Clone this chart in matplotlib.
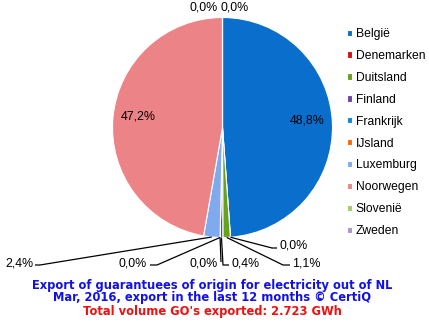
import matplotlib
matplotlib.use('Agg')
import matplotlib.pyplot as plt
import numpy as np

# ---- data ----
countries = ['België', 'Denemarken', 'Duitsland', 'Finland', 'Frankrijk',
             'IJsland', 'Luxemburg', 'Noorwegen', 'Slovenië', 'Zweden']
shares = [48.8, 0.0, 1.1, 0.4, 0.0, 0.0, 2.4, 47.2, 0.0, 0.0]
colors = ['#0A6FCC', '#D41010', '#65A31A', '#7243A6', '#0A88DC',
          '#FF6A00', '#80AAEE', '#EB8387', '#A3C96B', '#A895CC']
title_lines = ['Export of guarantuees of origin for electricity out of NL',
               'Mar, 2016, export in the last 12 months © CertiQ',
               "Total volume GO's exported: 2.723 GWh"]
title_colors = ['#1010EE', '#1010EE', '#F01010']

W, H = 429, 326
fig = plt.figure(figsize=(W / 100, H / 100), dpi=100)
ax = fig.add_axes([0, 0, 1, 1])
cx, cy, R = 222.5, 127.5, 110

wedges, _ = ax.pie(shares, colors=colors, startangle=-90, counterclock=True,
                   center=(cx, cy), radius=R,
                   wedgeprops=dict(edgecolor='white', linewidth=0.8))
ax.set_xlim(0, W)
ax.set_ylim(H, 0)
ax.set_aspect('equal')
ax.axis('off')


def fmt(v):
    return f"{v:.1f}".replace('.', ',') + '%'


lab_font = dict(family='Liberation Sans', fontsize=8.9, color='black')

# label layout for the small slices: elbow points, text position, alignment
layout = {
    1: ([(272, 248), (277, 248)], (279, 245), 'left'),
    2: ([(283, 265), (290, 265)], (292, 264), 'left'),
    3: ([(223, 265), (229, 265)], (231, 264), 'left'),
    4: ([(221, 262)], (218, 264), 'right'),
    5: ([(157, 265), (150, 265)], (147, 264), 'right'),
    6: ([(40, 265), (35, 265)], (33, 264), 'right'),
    8: ([], (204, 8), 'center'),
    9: ([], (235, 8), 'center'),
}

for i, (w, v) in enumerate(zip(wedges, shares)):
    mid = np.deg2rad((w.theta1 + w.theta2) / 2)
    if v > 10:
        d = 0.77 * R
        ax.text(cx + d * np.cos(mid), cy + d * np.sin(mid) - 4, fmt(v),
                ha='center', va='center', **lab_font)
        continue
    pts, (tx, ty), ha = layout[i]
    if pts:
        ex, ey = cx + R * np.cos(mid), cy + R * np.sin(mid)
        xs = [ex] + [p[0] for p in pts]
        ys = [ey] + [p[1] for p in pts]
        ax.plot(xs, ys, color='black', lw=0.9, solid_capstyle='butt')
    ax.text(tx, ty, fmt(v), ha=ha, va='center', **lab_font)

# legend
leg = ax.legend(wedges, countries, loc='upper left',
                bbox_to_anchor=(347 / W, 1 - 28 / H), frameon=False,
                prop=dict(family='Liberation Sans', size=8.7),
                handlelength=0.42, handleheight=0.42, handletextpad=0.3,
                labelspacing=0.82, borderpad=0, borderaxespad=0)

# titles
for k, (t, c) in enumerate(zip(title_lines, title_colors)):
    ax.text(212, 285 + 13 * k, t, ha='center', va='center', color=c,
            fontsize=8.3, fontweight='bold', family='DejaVu Sans')

fig.savefig('out.png', dpi=100)
